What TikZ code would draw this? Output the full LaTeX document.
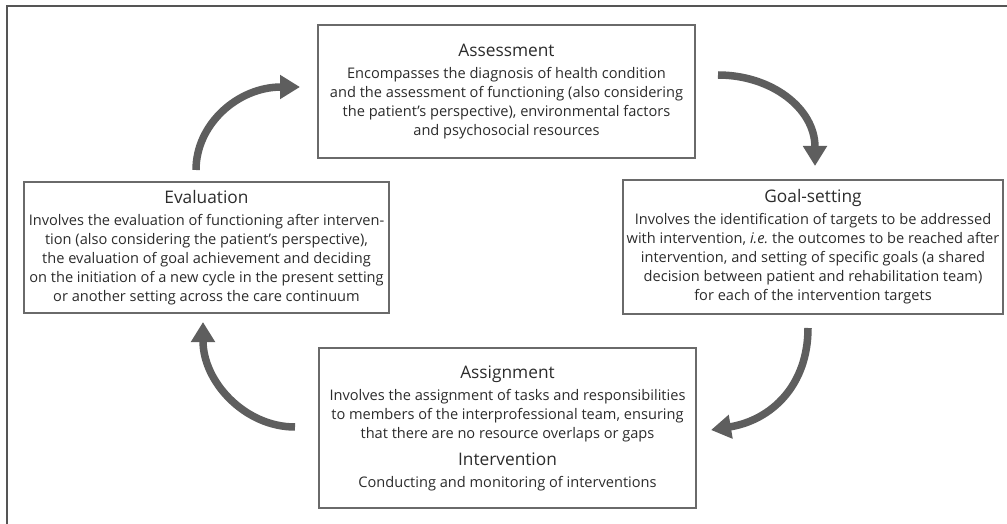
\documentclass[tikz,border=0pt]{standalone}
\usepackage{fontspec}
\setmainfont{Open Sans}
\usetikzlibrary{arrows.meta}
\definecolor{boxline}{HTML}{6A6A6A}
\definecolor{arrowgray}{HTML}{5E5E5E}
\definecolor{txt}{HTML}{2B2B2B}
\definecolor{frameline}{HTML}{555555}
\newcommand\stagetitle[1]{{\fontsize{17.3bp}{20bp}\selectfont #1}}
\frenchspacing
\begin{document}
\begin{tikzpicture}[x=1bp,y=-1bp,
  stagebox/.style={draw=boxline, line width=1.3bp, align=center, text=txt,
    inner sep=0pt, font=\fontsize{14.6bp}{19bp}\selectfont},
  cyclearrow/.style={draw=arrowgray, line width=7.5bp,
    -{Triangle[length=20bp,width=23bp]}}]
\useasboundingbox (0,0) rectangle (1007,524);
% outer frame (top and left edges)
\draw[frameline, line width=2bp] (6.5,524) -- (6.5,6.5) -- (1007,6.5);

% the four stages of the cycle
\node[stagebox, minimum width=377bp, minimum height=133bp] (assess) at (506.5,91.5)
  {\stagetitle{Assessment}\\[3bp]
   Encompasses the diagnosis of health condition\\
   and the assessment of functioning (also considering\\
   the patient’s perspective), environmental factors\\
   and psychosocial resources};

\node[stagebox, minimum width=380bp, minimum height=134bp] (goal) at (813,247)
  {\stagetitle{Goal-setting}\\[3bp]
   Involves the identification of targets to be addressed\\
   with intervention, \textit{i.e.} the outcomes to be reached after\\
   intervention, and setting of specific goals (a shared\\
   decision between patient and rehabilitation team)\\
   for each of the intervention targets};

\node[stagebox, minimum width=377bp, minimum height=160bp] (assign) at (507.5,428)
  {\stagetitle{Assignment}\\[3bp]
   Involves the assignment of tasks and responsibilities\\
   to members of the interprofessional team, ensuring\\
   that there are no resource overlaps or gaps\\[8bp]
   \stagetitle{Intervention}\\[3bp]
   Conducting and monitoring of interventions};

\node[stagebox, minimum width=365bp, minimum height=131bp] (eval) at (206.5,247.5)
  {\stagetitle{Evaluation}\\[3bp]
   Involves the evaluation of functioning after interven-\\
   tion (also considering the patient’s perspective),\\
   the evaluation of goal achievement and deciding\\
   on the initiation of a new cycle in the present setting\\
   or another setting across the care continuum};

% arrow end points between the boxes
\coordinate (e2a) at (196,170);
\coordinate (a2e) at (300,87);
\coordinate (a2g) at (718,75);
\coordinate (g2a) at (815,166);
\coordinate (g2s) at (808,328);
\coordinate (s2g) at (711,430);
\coordinate (s2e) at (295,427);
\coordinate (e2s) at (203,322);

\draw[cyclearrow] (e2a) .. controls (196,124) and (238,87) .. (a2e);
\draw[cyclearrow] (a2g) .. controls (771,75) and (815,108) .. (g2a);
\draw[cyclearrow] (g2s) .. controls (808,385) and (772,420) .. (s2g);
\draw[cyclearrow] (s2e) .. controls (245,427) and (203,382) .. (e2s);
\end{tikzpicture}
\end{document}
